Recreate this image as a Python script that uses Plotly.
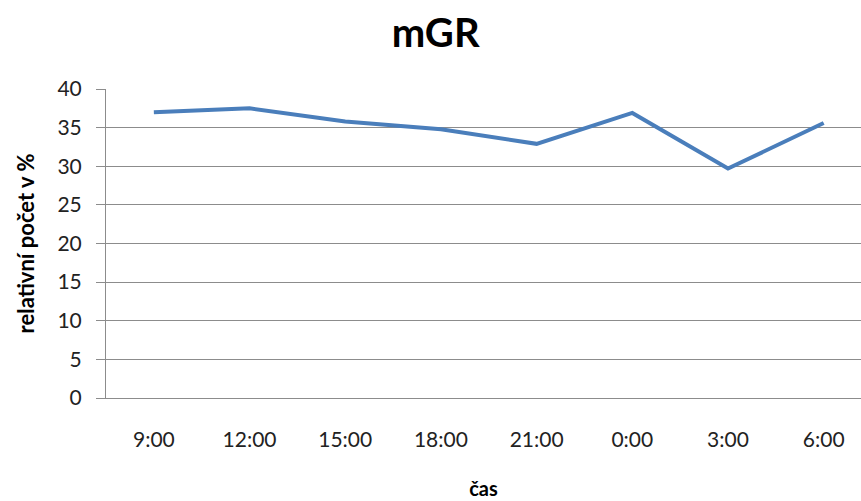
import plotly.graph_objects as go

# Time of sampling and relative count (%)
times = ["9:00", "12:00", "15:00", "18:00", "21:00", "0:00", "3:00", "6:00"]
values = [37.0, 37.5, 35.8, 34.8, 32.9, 36.9, 29.7, 35.6]

FONT = "Lato, Open Sans, sans-serif"
GRID = "#8c8c8c"

fig = go.Figure(
    go.Scatter(
        x=times,
        y=values,
        mode="lines",
        line=dict(color="#4a7ebb", width=4),
        hoverinfo="x+y",
    )
)

fig.update_layout(
    width=861,
    height=501,
    margin=dict(l=106, r=0, t=89, b=103),
    paper_bgcolor="white",
    plot_bgcolor="white",
    showlegend=False,
    title=dict(
        text="<b>mGR</b>",
        x=0.506,
        xanchor="center",
        y=0.935,
        yanchor="middle",
        font=dict(family=FONT, size=40, color="#000000"),
    ),
    font=dict(family=FONT, color="#222222"),
)

# the category axis runs a little past the right edge of the figure
fig.update_xaxes(
    type="category",
    range=[-0.5, 7.39],
    showgrid=False,
    showline=True,
    linecolor=GRID,
    linewidth=1,
    ticks="",
    ticklabelstandoff=23,
    tickfont=dict(size=21, color="#222222"),
    title=dict(
        text="<b>čas</b>",
        font=dict(size=20, color="#000000"),
        standoff=31,
    ),
    zeroline=False,
)

fig.update_yaxes(
    range=[0, 40],
    dtick=5,
    showgrid=True,
    gridcolor=GRID,
    gridwidth=1,
    showline=True,
    linecolor=GRID,
    linewidth=1,
    ticks="outside",
    ticklen=9,
    tickcolor=GRID,
    ticklabelstandoff=10,
    tickfont=dict(size=21, color="#222222"),
    title=dict(
        text="<b>relativní počet v %</b>",
        font=dict(size=22, color="#000000"),
        standoff=16,
    ),
    zeroline=False,
)

fig.write_html("out.html")
